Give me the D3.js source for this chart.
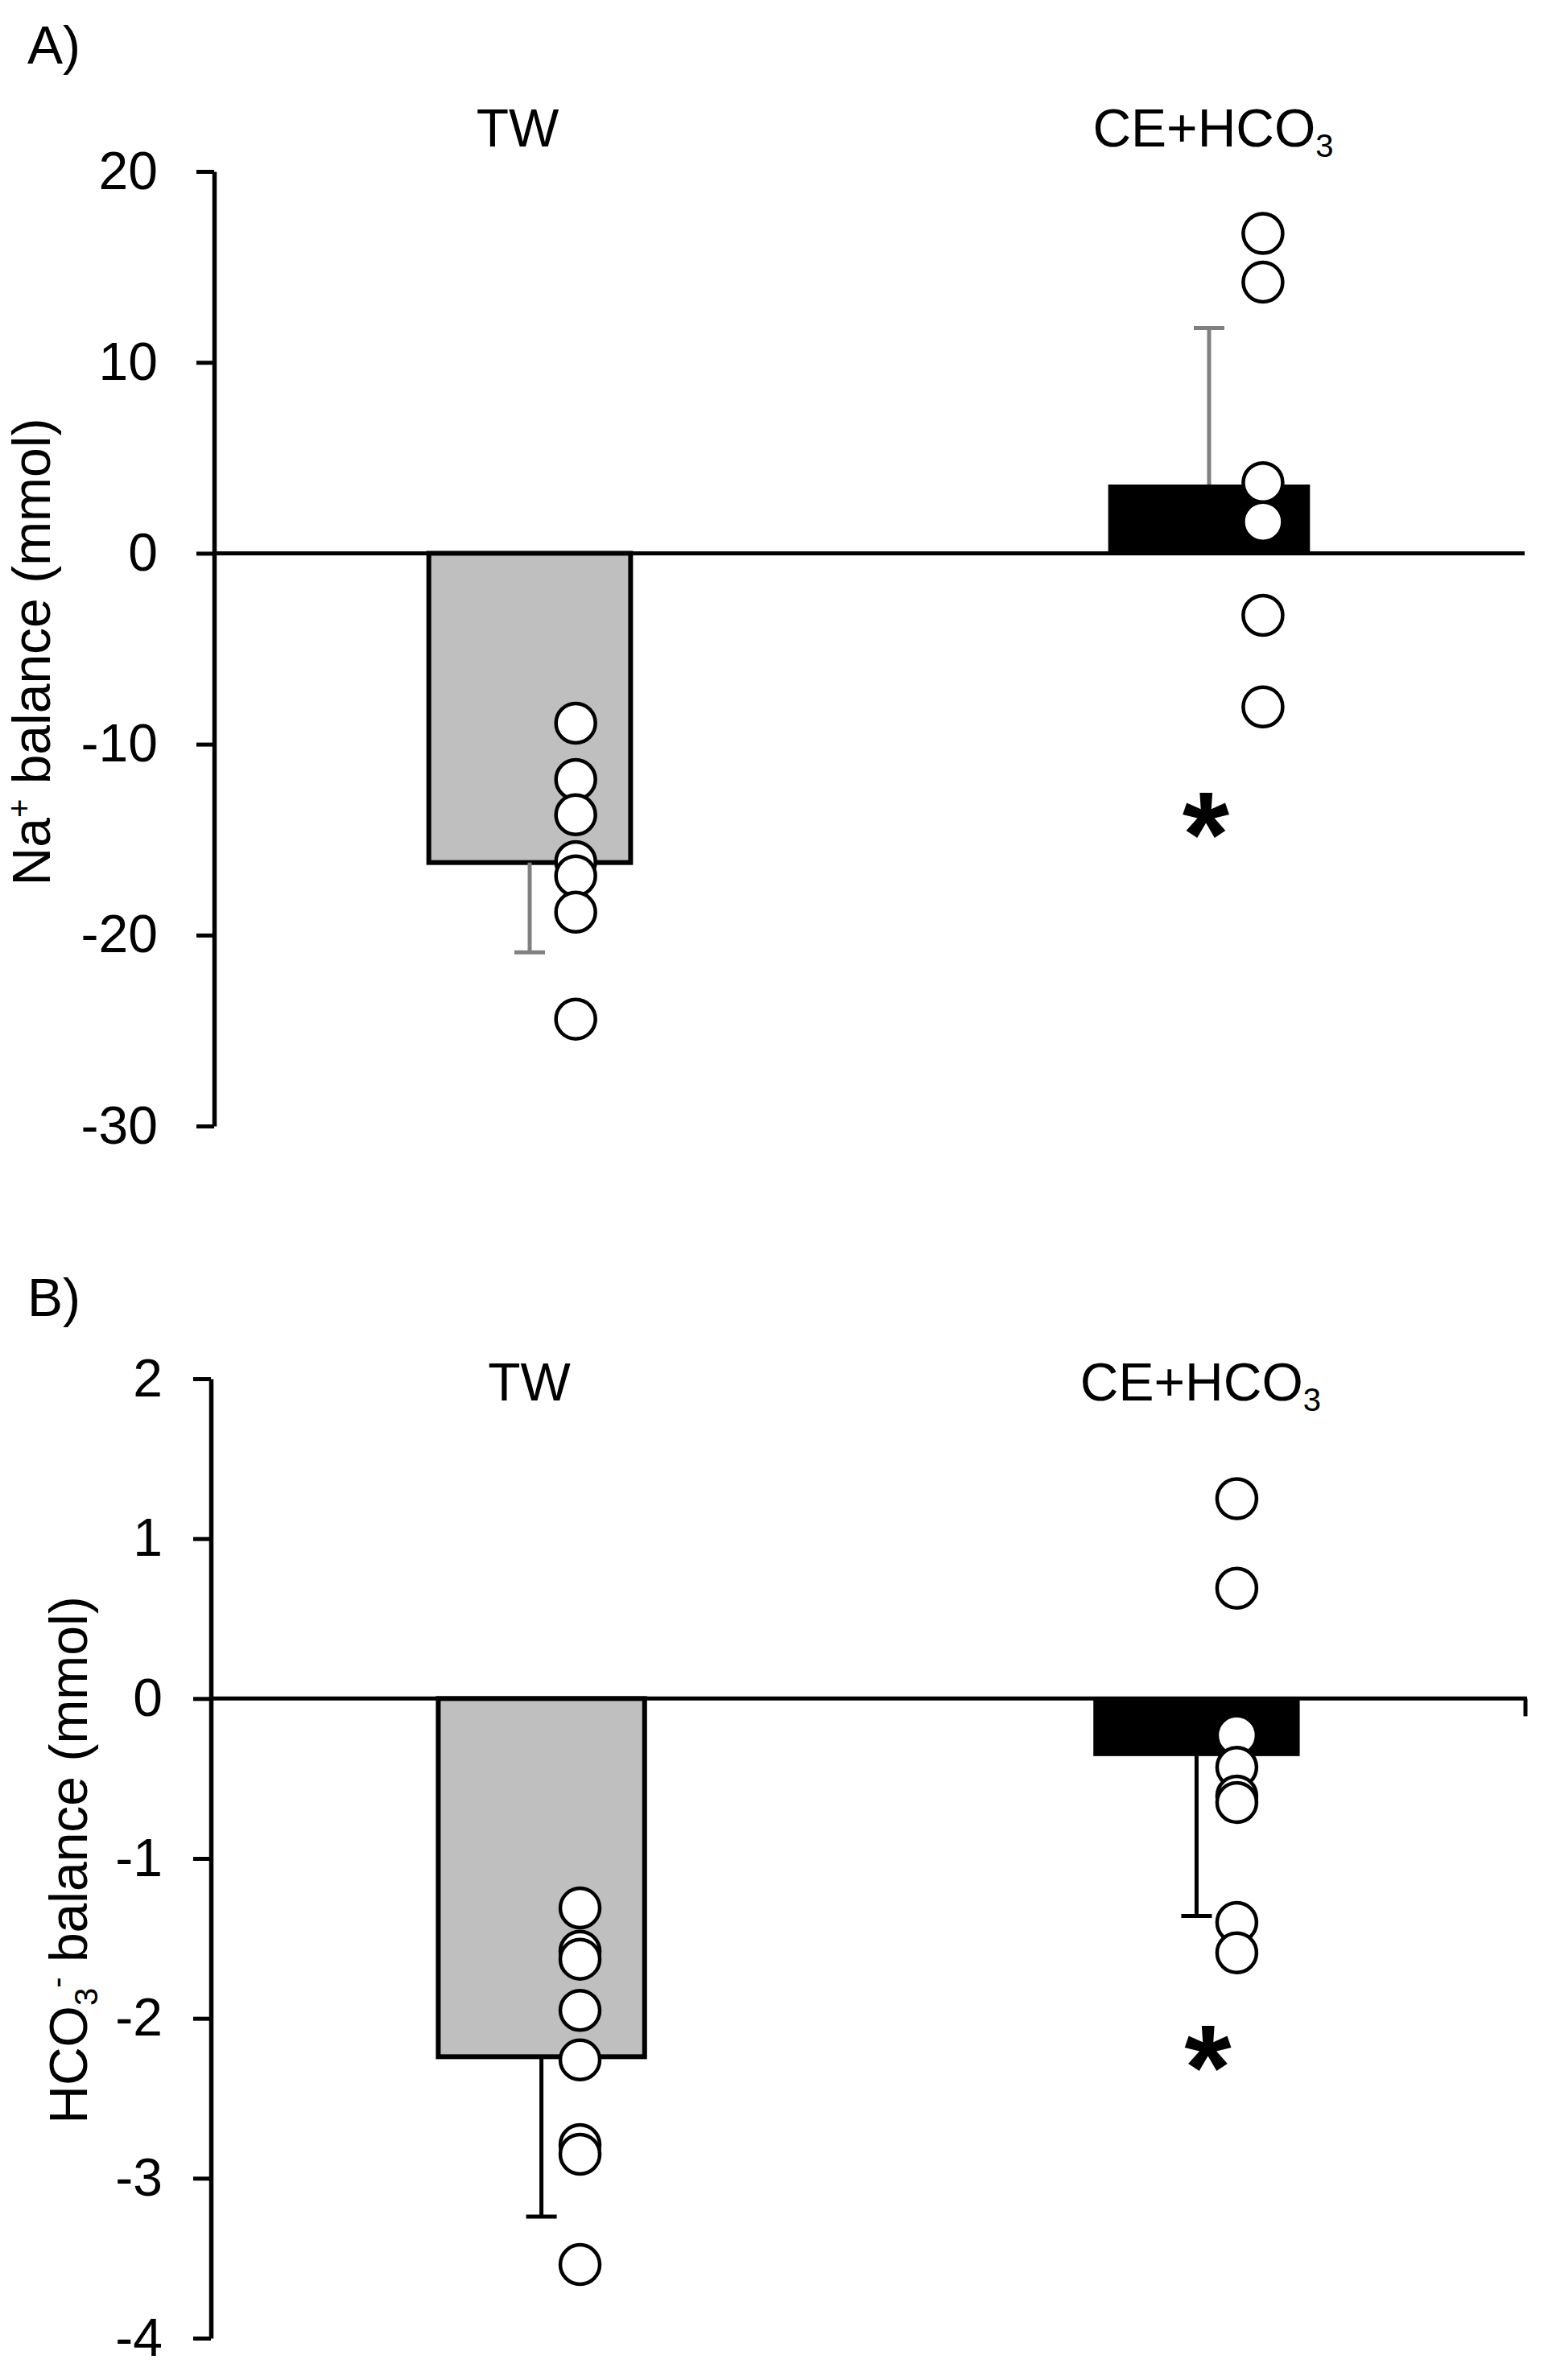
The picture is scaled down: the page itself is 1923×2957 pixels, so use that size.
<!DOCTYPE html>
<html>
<head>
<meta charset="utf-8">
<script src="https://cdn.jsdelivr.net/npm/d3@7"></script>
<style>
  html, body { margin: 0; padding: 0; background: #fff; }
  svg { display: block; }
</style>
</head>
<body>
<script>
// ---------- data ----------
const groups = ["TW", "CE+HCO3"];

// Panel A: Na+ balance (mmol)
const naMeans = [-16.2, 3.6];
const naSD = [4.7, 8.2];
const naPointsTW = [-8.9, -11.85, -13.7, -16.15, -16.9, -18.8, -24.4];
const naPointsCE = [16.75, 14.2, 3.7, 1.65, -3.25, -8.05];
const naTicks = [20, 10, 0, -10, -20, -30];
const naSig = -13.4;

// Panel B: HCO3- balance (mmol)
const hcoMeans = [-2.24, -0.36];
const hcoSD = [1.0, 1.0];
const hcoPointsTW = [-1.31, -1.58, -1.63, -1.95, -2.26, -2.79, -2.85, -3.54];
const hcoPointsCE = [1.25, 0.69, -0.23, -0.43, -0.61, -0.65, -1.40, -1.59];
const hcoTicks = [2, 1, 0, -1, -2, -3, -4];
const hcoSig = -2.15;

// ---------- drawing ----------
const W = 1923, H = 2957;
const FONT = "'Liberation Sans', Arial, Helvetica, sans-serif";
const svg = d3.select("body").append("svg").attr("width", W).attr("height", H)
  .attr("font-family", FONT);

function panel(cfg) {
  const g = svg.append("g");
  const x = d3.scaleBand().domain(groups).range(cfg.xRange)
    .paddingInner(cfg.padInner).paddingOuter(cfg.padOuter);
  const y = d3.scaleLinear().domain(cfg.domain).range(cfg.yRange);
  const bw = x.bandwidth();
  const cx = d => x(d) + bw / 2;
  const y0 = y(0);

  // bars
  g.selectAll("rect.bar").data(groups).join("rect")
    .attr("class", "bar")
    .attr("x", d => x(d))
    .attr("width", bw)
    .attr("y", (d, i) => Math.min(y0, y(cfg.means[i])))
    .attr("height", (d, i) => Math.abs(y(cfg.means[i]) - y0))
    .attr("fill", (d, i) => cfg.barFill[i])
    .attr("stroke", "#000")
    .attr("stroke-width", (d, i) => cfg.barStroke[i]);

  // error bars (away from zero)
  const err = groups.map((d, i) => {
    const m = cfg.means[i], s = Math.sign(m) || 1;
    return { g: d, from: m, to: m + s * cfg.sd[i] };
  });
  g.selectAll("line.err").data(err).join("line")
    .attr("class", "err")
    .attr("x1", d => cx(d.g)).attr("x2", d => cx(d.g))
    .attr("y1", d => y(d.from)).attr("y2", d => y(d.to))
    .attr("stroke", cfg.errColor).attr("stroke-width", 5);
  g.selectAll("line.cap").data(err).join("line")
    .attr("class", "cap")
    .attr("x1", d => cx(d.g) - 19).attr("x2", d => cx(d.g) + 19)
    .attr("y1", d => y(d.to)).attr("y2", d => y(d.to))
    .attr("stroke", cfg.errColor).attr("stroke-width", 5);

  // zero line
  g.append("line")
    .attr("x1", cfg.xRange[0]).attr("x2", cfg.xRange[1])
    .attr("y1", y0).attr("y2", y0)
    .attr("stroke", "#000").attr("stroke-width", 5);
  if (cfg.endTick) {
    g.append("line")
      .attr("x1", cfg.xRange[1] - 2).attr("x2", cfg.xRange[1] - 2)
      .attr("y1", y0).attr("y2", y0 + 22)
      .attr("stroke", "#000").attr("stroke-width", 5);
  }

  // y axis
  const axis = d3.axisLeft(y).tickValues(cfg.ticks).tickSize(22).tickSizeOuter(0)
    .tickPadding(cfg.tickPad).tickFormat(d => String(d));
  const ag = g.append("g").attr("transform", `translate(${cfg.xRange[0]},0)`).call(axis);
  ag.select(".domain").attr("stroke", "#000").attr("stroke-width", 5.5);
  ag.selectAll(".tick line").attr("stroke", "#000").attr("stroke-width", 5);
  ag.selectAll(".tick text").attr("font-size", 66).attr("font-family", FONT).attr("fill", "#000");

  // individual points
  const pts = [];
  cfg.points.forEach((arr, i) => arr.forEach(v => pts.push({ g: groups[i], v, off: cfg.pointOff[i] })));
  g.selectAll("circle.pt").data(pts).join("circle")
    .attr("class", "pt")
    .attr("cx", d => cx(d.g) + d.off * bw)
    .attr("cy", d => y(d.v))
    .attr("r", 24.5)
    .attr("fill", "#fff").attr("stroke", "#000").attr("stroke-width", 4.5);

  // group labels
  const lab = g.append("g").attr("font-size", 66);
  lab.append("text").attr("x", cx(groups[0]) - 15).attr("y", cfg.labelY)
    .attr("text-anchor", "middle").text("TW");
  const ce = lab.append("text").attr("x", cx(groups[1]) + 5).attr("y", cfg.labelY)
    .attr("text-anchor", "middle");
  ce.append("tspan").text("CE+HCO");
  ce.append("tspan").attr("font-size", 40).attr("dy", 13).text("3");

  // significance marker
  g.append("text").attr("x", cx(groups[1]) + cfg.sigDx).attr("y", y(cfg.sig) + 0.56 * 150)
    .attr("text-anchor", "middle").attr("font-size", 150).attr("font-weight", "bold")
    .text("*");

  // panel letter
  g.append("text").attr("x", 34).attr("y", cfg.letterY).attr("font-size", 66).text(cfg.letter);

  // y title
  const yt = g.append("text")
    .attr("transform", `translate(${cfg.titleX},${cfg.titleY}) rotate(-90)`)
    .attr("text-anchor", "middle").attr("font-size", 66);
  cfg.title(yt);
}

panel({
  xRange: [266, 1894], padInner: 0.703, padOuter: 0.316,
  domain: [-30, 20], yRange: [1399, 213],
  means: naMeans, sd: naSD, points: [naPointsTW, naPointsCE],
  barFill: ["#bfbfbf", "#000"], barStroke: [6, 0], errColor: "#808080",
  ticks: naTicks, tickPad: 48, pointOff: [0.228, 0.267],
  labelY: 182, sig: naSig, sigDx: -4, letter: "A)", letterY: 79, endTick: false,
  titleX: 62, titleY: 810,
  title: t => {
    t.append("tspan").text("Na");
    t.append("tspan").attr("font-size", 40).attr("dy", -24).text("+");
    t.append("tspan").attr("dy", 24).text(" balance (mmol)");
  }
});

panel({
  xRange: [262, 1897], padInner: 0.685, padOuter: 0.347,
  domain: [-4, 2], yRange: [2905, 1713],
  means: hcoMeans, sd: hcoSD, points: [hcoPointsTW, hcoPointsCE],
  barFill: ["#bfbfbf", "#000"], barStroke: [6, 0], errColor: "#000",
  ticks: hcoTicks, tickPad: 38, pointOff: [0.187, 0.195],
  labelY: 1740, sig: hcoSig, sigDx: 14, letter: "B)", letterY: 1635, endTick: true,
  titleX: 108, titleY: 2311,
  title: t => {
    t.append("tspan").text("HCO");
    t.append("tspan").attr("font-size", 40).attr("dy", 13).text("3");
    t.append("tspan").attr("font-size", 40).attr("dy", -37).text("-");
    t.append("tspan").attr("dy", 24).text(" balance (mmol)");
  }
});
</script>
</body>
</html>
